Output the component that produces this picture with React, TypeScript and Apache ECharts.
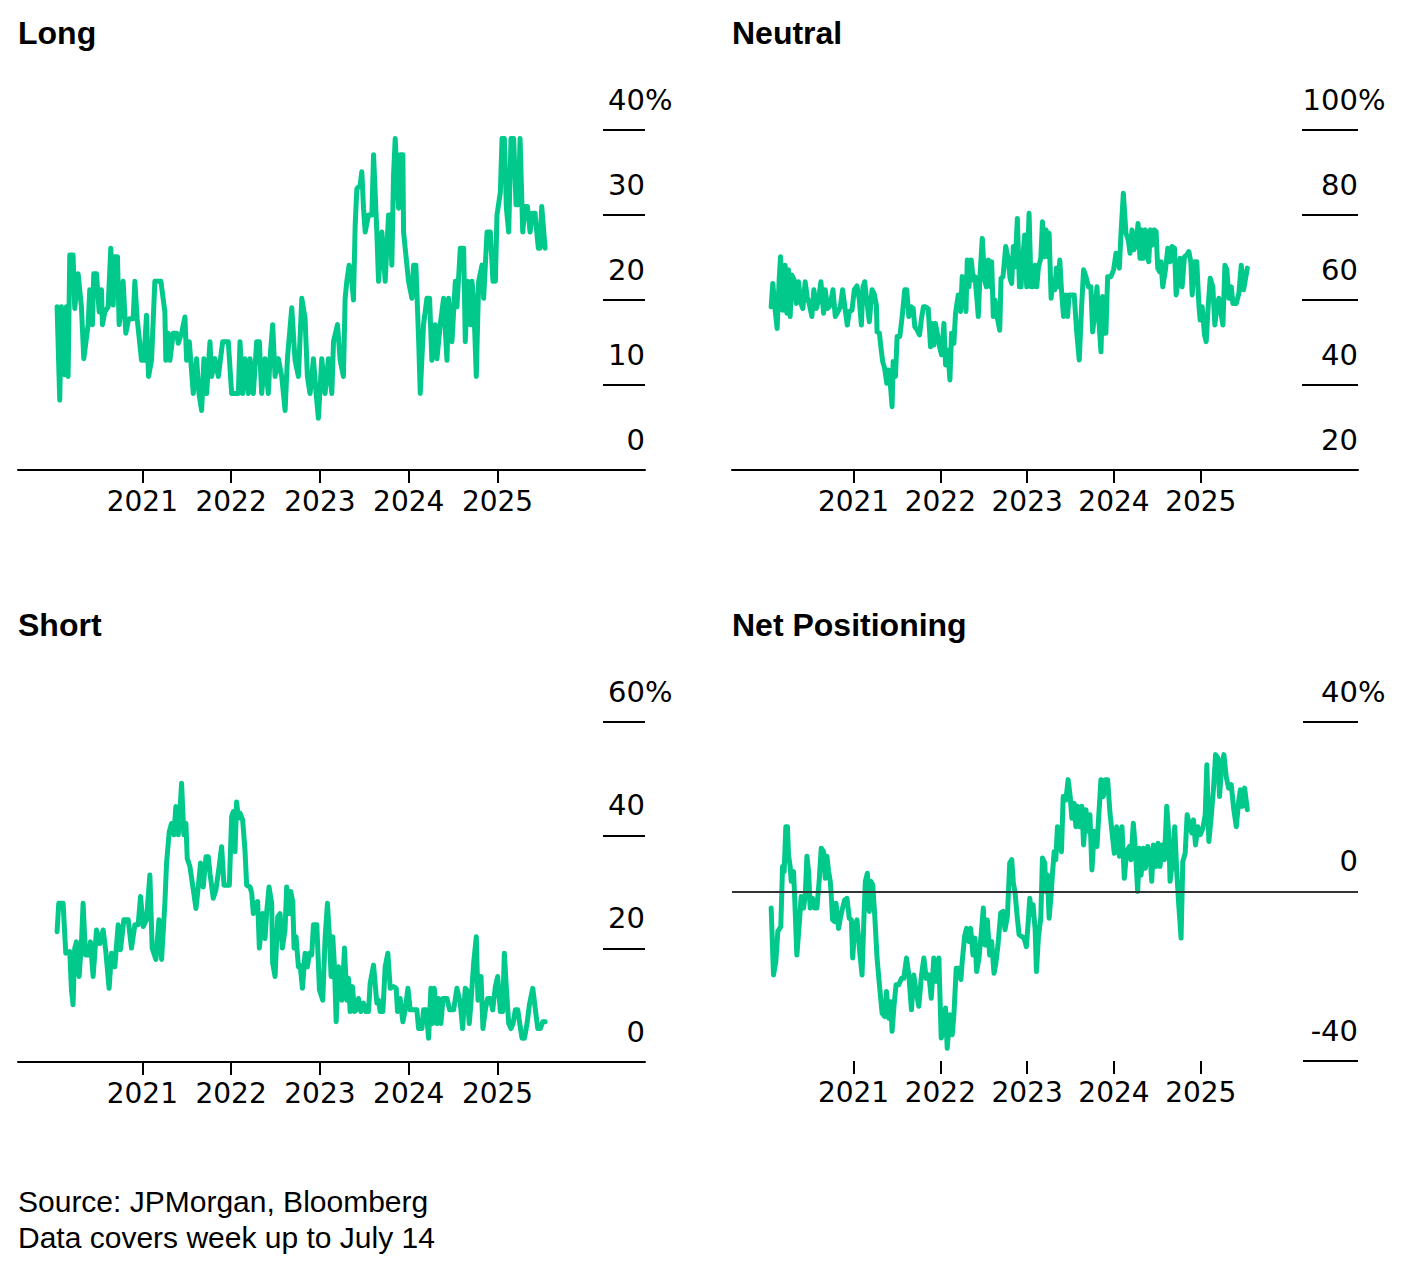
import React, { useEffect, useRef } from "react";
import * as echarts from "echarts";

// Decimal-year dates (weekly survey) and values in %
const longSeries: [number, number][] = [
  [2020.040, 19.2], [2020.070, 8.2], [2020.089, 19.2], [2020.126, 11.2], [2020.145, 19.2], [2020.164, 11.0],
  [2020.183, 25.3], [2020.220, 25.3], [2020.239, 19.0], [2020.277, 23.1], [2020.314, 19.2], [2020.341, 13.1],
  [2020.390, 17.1], [2020.408, 21.2], [2020.438, 17.1], [2020.453, 23.1], [2020.484, 23.1], [2020.514, 18.6],
  [2020.540, 21.2], [2020.551, 17.1], [2020.578, 18.6], [2020.615, 19.2], [2020.645, 26.1], [2020.672, 19.4],
  [2020.690, 25.1], [2020.720, 25.1], [2020.739, 17.1], [2020.758, 18.6], [2020.784, 22.2], [2020.814, 16.1],
  [2020.841, 17.5], [2020.859, 17.8], [2020.897, 17.8], [2020.916, 22.2], [2020.942, 17.8], [2020.991, 12.9],
  [2021.017, 12.9], [2021.047, 18.2], [2021.070, 11.0], [2021.104, 12.9], [2021.141, 22.2], [2021.209, 22.2],
  [2021.254, 18.6], [2021.265, 12.9], [2021.292, 16.1], [2021.311, 12.9], [2021.348, 16.1], [2021.386, 16.1],
  [2021.405, 14.9], [2021.442, 16.1], [2021.480, 18.0], [2021.499, 12.9], [2021.529, 15.1], [2021.574, 9.0],
  [2021.611, 13.1], [2021.638, 9.0], [2021.668, 7.0], [2021.694, 13.1], [2021.724, 9.0], [2021.762, 15.1],
  [2021.780, 11.0], [2021.818, 13.1], [2021.856, 11.0], [2021.905, 15.1], [2021.968, 15.1], [2022.006, 9.0],
  [2022.081, 9.0], [2022.100, 15.1], [2022.130, 9.0], [2022.156, 13.1], [2022.194, 9.0], [2022.213, 13.1],
  [2022.250, 9.0], [2022.288, 15.1], [2022.318, 15.1], [2022.344, 9.0], [2022.382, 13.1], [2022.419, 9.0],
  [2022.438, 13.1], [2022.468, 17.1], [2022.495, 11.0], [2022.532, 13.1], [2022.570, 11.0], [2022.608, 7.0],
  [2022.634, 13.1], [2022.683, 19.1], [2022.720, 12.9], [2022.758, 11.0], [2022.796, 20.2], [2022.833, 17.8],
  [2022.859, 11.0], [2022.889, 9.0], [2022.927, 13.1], [2022.957, 9.0], [2022.983, 6.1], [2023.021, 13.1],
  [2023.058, 9.0], [2023.096, 13.1], [2023.134, 9.0], [2023.153, 15.1], [2023.198, 17.1], [2023.228, 12.9],
  [2023.265, 11.0], [2023.284, 20.2], [2023.303, 22.2], [2023.329, 24.1], [2023.359, 22.2], [2023.378, 20.0],
  [2023.397, 28.8], [2023.416, 33.1], [2023.453, 33.5], [2023.472, 35.1], [2023.491, 30.8], [2023.510, 28.0],
  [2023.547, 30.0], [2023.585, 30.0], [2023.604, 37.1], [2023.641, 28.0], [2023.660, 22.2], [2023.698, 28.0],
  [2023.735, 22.2], [2023.773, 30.0], [2023.792, 30.0], [2023.810, 24.1], [2023.829, 34.7], [2023.848, 39.0],
  [2023.886, 30.8], [2023.904, 37.1], [2023.934, 37.1], [2023.942, 28.0], [2023.998, 22.2], [2024.036, 20.2],
  [2024.055, 24.1], [2024.081, 24.1], [2024.111, 15.5], [2024.130, 9.0], [2024.167, 17.1], [2024.205, 20.2],
  [2024.235, 20.2], [2024.261, 12.9], [2024.299, 17.1], [2024.318, 13.1], [2024.355, 17.1], [2024.393, 20.2],
  [2024.431, 12.9], [2024.449, 20.2], [2024.487, 15.1], [2024.525, 22.2], [2024.543, 19.2], [2024.581, 26.1],
  [2024.619, 26.1], [2024.637, 15.1], [2024.664, 22.2], [2024.694, 17.1], [2024.712, 22.2], [2024.731, 20.2],
  [2024.761, 11.0], [2024.788, 22.2], [2024.825, 24.1], [2024.844, 20.2], [2024.882, 28.0], [2024.919, 28.0],
  [2024.949, 22.2], [2024.976, 22.2], [2024.994, 30.0], [2025.032, 32.7], [2025.051, 39.0], [2025.077, 39.0],
  [2025.100, 30.8], [2025.126, 28.0], [2025.152, 39.0], [2025.182, 39.0], [2025.209, 31.2], [2025.235, 31.2],
  [2025.254, 39.0], [2025.284, 28.0], [2025.310, 31.0], [2025.337, 31.0], [2025.367, 28.0], [2025.393, 30.2],
  [2025.423, 30.2], [2025.442, 28.0], [2025.460, 26.1], [2025.479, 26.1], [2025.498, 31.0], [2025.536, 26.1],
];

const neutralSeries: [number, number][] = [
  [2020.051, 58.4], [2020.070, 63.9], [2020.097, 57.6], [2020.120, 53.3], [2020.143, 64.7], [2020.159, 70.2],
  [2020.182, 57.6], [2020.197, 63.1], [2020.212, 68.2], [2020.232, 56.9], [2020.251, 67.1], [2020.270, 56.1],
  [2020.289, 65.9], [2020.316, 64.7], [2020.339, 59.2], [2020.366, 64.3], [2020.393, 59.2], [2020.416, 58.0],
  [2020.443, 64.3], [2020.466, 60.8], [2020.493, 58.8], [2020.520, 56.1], [2020.543, 62.4], [2020.570, 58.0],
  [2020.597, 60.0], [2020.624, 64.3], [2020.655, 56.9], [2020.674, 62.4], [2020.701, 58.0], [2020.732, 58.8],
  [2020.763, 62.4], [2020.790, 56.1], [2020.821, 57.3], [2020.848, 58.4], [2020.874, 62.4], [2020.905, 57.6],
  [2020.928, 54.1], [2020.951, 57.3], [2020.982, 57.6], [2021.009, 62.4], [2021.040, 63.3], [2021.067, 60.0],
  [2021.090, 54.1], [2021.109, 63.1], [2021.128, 64.3], [2021.152, 60.0], [2021.182, 54.9], [2021.213, 62.4],
  [2021.236, 61.6], [2021.263, 58.8], [2021.271, 52.5], [2021.298, 52.2], [2021.317, 48.6], [2021.336, 45.5],
  [2021.359, 43.9], [2021.383, 40.4], [2021.406, 43.5], [2021.425, 40.0], [2021.444, 34.9], [2021.456, 45.5],
  [2021.483, 42.0], [2021.502, 51.4], [2021.533, 51.4], [2021.560, 56.1], [2021.590, 62.4], [2021.613, 62.4],
  [2021.637, 56.1], [2021.664, 58.4], [2021.687, 58.0], [2021.706, 53.7], [2021.733, 52.9], [2021.760, 51.8],
  [2021.783, 55.7], [2021.806, 58.4], [2021.829, 58.4], [2021.860, 58.0], [2021.887, 49.0], [2021.906, 54.5],
  [2021.925, 49.4], [2021.944, 54.5], [2021.964, 52.2], [2021.991, 49.0], [2022.014, 47.1], [2022.041, 54.5],
  [2022.060, 44.7], [2022.087, 48.2], [2022.110, 41.2], [2022.129, 52.2], [2022.156, 49.8], [2022.175, 56.9],
  [2022.206, 61.2], [2022.233, 57.3], [2022.252, 65.5], [2022.275, 64.7], [2022.295, 57.3], [2022.310, 69.4],
  [2022.329, 63.1], [2022.356, 69.4], [2022.379, 64.7], [2022.399, 65.5], [2022.422, 60.0], [2022.437, 56.1],
  [2022.456, 65.5], [2022.483, 74.5], [2022.510, 64.7], [2022.530, 63.1], [2022.553, 69.4], [2022.580, 63.1],
  [2022.591, 69.0], [2022.610, 56.1], [2022.630, 60.0], [2022.657, 55.7], [2022.684, 52.9], [2022.699, 65.1],
  [2022.722, 65.5], [2022.753, 72.6], [2022.780, 69.8], [2022.803, 65.1], [2022.822, 63.9], [2022.841, 72.6],
  [2022.861, 67.8], [2022.887, 79.2], [2022.911, 63.1], [2022.930, 63.1], [2022.945, 69.0], [2022.972, 75.3],
  [2022.995, 63.1], [2023.022, 80.4], [2023.045, 63.1], [2023.068, 63.1], [2023.092, 68.2], [2023.111, 63.1],
  [2023.130, 67.8], [2023.157, 69.8], [2023.176, 78.4], [2023.199, 70.2], [2023.219, 76.5], [2023.238, 70.2],
  [2023.253, 75.7], [2023.276, 60.4], [2023.295, 64.7], [2023.318, 62.4], [2023.338, 67.5], [2023.357, 63.1],
  [2023.376, 69.4], [2023.395, 62.4], [2023.419, 56.1], [2023.446, 61.2], [2023.465, 56.1], [2023.484, 61.2],
  [2023.515, 61.2], [2023.542, 61.2], [2023.569, 52.9], [2023.600, 45.9], [2023.627, 58.4], [2023.650, 67.1],
  [2023.677, 65.5], [2023.707, 63.1], [2023.734, 63.1], [2023.754, 52.5], [2023.780, 56.9], [2023.804, 63.1],
  [2023.823, 56.1], [2023.850, 47.8], [2023.869, 60.8], [2023.888, 52.2], [2023.907, 52.2], [2023.927, 65.5],
  [2023.965, 65.5], [2023.996, 67.1], [2024.023, 71.0], [2024.042, 70.6], [2024.062, 67.5], [2024.081, 75.7],
  [2024.108, 85.1], [2024.138, 75.7], [2024.165, 74.1], [2024.185, 71.0], [2024.208, 76.5], [2024.227, 71.8],
  [2024.254, 72.9], [2024.277, 78.0], [2024.300, 69.8], [2024.320, 76.5], [2024.339, 69.8], [2024.362, 76.5],
  [2024.381, 71.8], [2024.400, 69.0], [2024.420, 76.5], [2024.439, 72.9], [2024.466, 76.5], [2024.485, 76.1],
  [2024.504, 67.5], [2024.523, 66.7], [2024.542, 69.0], [2024.562, 63.1], [2024.593, 67.1], [2024.620, 72.2],
  [2024.647, 69.0], [2024.670, 72.6], [2024.697, 72.2], [2024.716, 61.2], [2024.739, 64.7], [2024.762, 69.8],
  [2024.785, 63.1], [2024.812, 70.2], [2024.839, 70.6], [2024.862, 71.4], [2024.885, 69.0], [2024.901, 61.2],
  [2024.928, 69.0], [2024.954, 69.0], [2024.978, 58.8], [2024.993, 55.3], [2025.016, 58.4], [2025.043, 51.8],
  [2025.062, 50.2], [2025.085, 58.4], [2025.108, 65.1], [2025.139, 63.1], [2025.162, 54.1], [2025.185, 58.4],
  [2025.208, 60.4], [2025.235, 56.5], [2025.255, 54.1], [2025.278, 68.2], [2025.301, 67.1], [2025.324, 60.4],
  [2025.351, 63.1], [2025.370, 59.2], [2025.409, 59.2], [2025.439, 61.6], [2025.466, 68.2], [2025.493, 62.4],
  [2025.536, 67.5],
];

const shortSeries: [number, number][] = [
  [2020.040, 23.0], [2020.059, 28.0], [2020.108, 28.0], [2020.138, 19.2], [2020.183, 19.5], [2020.202, 12.7],
  [2020.220, 10.1], [2020.239, 20.1], [2020.258, 21.2], [2020.288, 15.1], [2020.314, 20.9], [2020.333, 28.0],
  [2020.360, 18.9], [2020.390, 18.9], [2020.416, 21.2], [2020.446, 15.1], [2020.484, 23.3], [2020.521, 20.9],
  [2020.559, 23.3], [2020.589, 19.5], [2020.626, 13.0], [2020.653, 19.2], [2020.690, 16.8], [2020.728, 24.2],
  [2020.754, 19.8], [2020.792, 25.1], [2020.841, 25.1], [2020.878, 20.1], [2020.916, 24.2], [2020.953, 24.2],
  [2020.980, 29.2], [2021.010, 23.9], [2021.047, 25.1], [2021.085, 33.0], [2021.111, 20.1], [2021.153, 18.1],
  [2021.187, 25.1], [2021.217, 18.1], [2021.254, 28.0], [2021.273, 35.1], [2021.303, 40.6], [2021.329, 42.1],
  [2021.356, 40.1], [2021.378, 45.1], [2021.405, 40.1], [2021.423, 43.9], [2021.442, 49.2], [2021.468, 40.1],
  [2021.491, 42.1], [2021.506, 35.9], [2021.536, 34.5], [2021.574, 30.4], [2021.604, 27.1], [2021.630, 30.9],
  [2021.656, 35.1], [2021.686, 30.9], [2021.717, 36.2], [2021.743, 36.2], [2021.762, 33.3], [2021.799, 28.9],
  [2021.829, 30.4], [2021.863, 34.2], [2021.893, 38.0], [2021.920, 31.2], [2021.950, 31.2], [2021.980, 31.2],
  [2022.006, 43.3], [2022.025, 44.2], [2022.044, 37.1], [2022.062, 45.9], [2022.081, 43.0], [2022.100, 43.9],
  [2022.130, 42.7], [2022.156, 37.4], [2022.175, 31.2], [2022.213, 30.9], [2022.232, 29.8], [2022.250, 26.2],
  [2022.280, 28.0], [2022.299, 28.3], [2022.318, 20.1], [2022.356, 26.2], [2022.382, 21.8], [2022.401, 26.5],
  [2022.427, 30.9], [2022.457, 28.0], [2022.468, 17.4], [2022.495, 15.1], [2022.525, 25.6], [2022.551, 26.2],
  [2022.577, 20.1], [2022.607, 23.3], [2022.626, 30.9], [2022.653, 26.2], [2022.671, 30.1], [2022.694, 28.3],
  [2022.709, 20.1], [2022.731, 22.1], [2022.758, 16.8], [2022.777, 17.1], [2022.803, 13.0], [2022.833, 19.2],
  [2022.859, 16.8], [2022.882, 19.2], [2022.908, 18.9], [2022.927, 24.2], [2022.965, 24.2], [2022.995, 12.7],
  [2023.032, 10.9], [2023.059, 22.1], [2023.085, 28.0], [2023.107, 22.1], [2023.126, 15.1], [2023.145, 22.1],
  [2023.164, 16.8], [2023.183, 7.1], [2023.209, 16.8], [2023.247, 10.9], [2023.277, 20.1], [2023.303, 10.9],
  [2023.322, 14.8], [2023.340, 8.9], [2023.367, 13.3], [2023.389, 8.9], [2023.408, 9.2], [2023.434, 11.2],
  [2023.461, 8.9], [2023.491, 10.4], [2023.517, 8.9], [2023.547, 8.9], [2023.566, 13.9], [2023.604, 17.1],
  [2023.641, 10.4], [2023.660, 10.9], [2023.679, 8.9], [2023.709, 8.9], [2023.735, 16.8], [2023.765, 19.2],
  [2023.792, 13.0], [2023.829, 13.3], [2023.859, 13.0], [2023.874, 8.9], [2023.904, 11.2], [2023.934, 7.1],
  [2023.961, 9.2], [2023.991, 13.0], [2024.017, 9.2], [2024.055, 9.2], [2024.092, 9.2], [2024.111, 5.9],
  [2024.149, 5.9], [2024.167, 9.2], [2024.197, 9.2], [2024.224, 4.2], [2024.250, 13.0], [2024.269, 6.8],
  [2024.288, 13.0], [2024.318, 6.8], [2024.337, 11.2], [2024.363, 6.8], [2024.386, 11.2], [2024.431, 11.2],
  [2024.461, 9.2], [2024.506, 9.2], [2024.543, 13.0], [2024.581, 10.4], [2024.607, 5.9], [2024.637, 13.0],
  [2024.656, 12.7], [2024.682, 6.8], [2024.701, 10.4], [2024.731, 17.4], [2024.761, 22.1], [2024.780, 10.9],
  [2024.814, 15.1], [2024.836, 5.9], [2024.863, 9.2], [2024.889, 11.2], [2024.919, 11.2], [2024.946, 9.2],
  [2024.976, 13.3], [2025.002, 15.1], [2025.032, 8.9], [2025.058, 8.9], [2025.077, 19.2], [2025.100, 13.0],
  [2025.126, 6.8], [2025.152, 5.9], [2025.175, 6.8], [2025.201, 9.2], [2025.228, 9.2], [2025.250, 6.8],
  [2025.276, 4.2], [2025.303, 4.2], [2025.333, 6.8], [2025.359, 10.1], [2025.397, 13.0], [2025.427, 9.2],
  [2025.453, 5.9], [2025.483, 5.9], [2025.509, 7.1], [2025.536, 7.1],
];

const netSeries: [number, number][] = [
  [2020.051, -3.9], [2020.078, -19.7], [2020.105, -16.5], [2020.128, -9.4], [2020.162, -8.3], [2020.182, 5.9],
  [2020.201, 4.7], [2020.220, 15.3], [2020.239, 15.3], [2020.251, 8.6], [2020.270, 5.9], [2020.282, 2.4],
  [2020.309, 4.7], [2020.320, -0.4], [2020.347, -15.0], [2020.374, -7.9], [2020.397, -1.2], [2020.424, -3.9],
  [2020.443, -1.2], [2020.463, 8.3], [2020.482, 4.7], [2020.501, -3.9], [2020.528, -1.6], [2020.551, -3.9],
  [2020.578, -3.9], [2020.605, 2.8], [2020.628, 10.2], [2020.655, 9.4], [2020.674, 3.1], [2020.694, 8.3],
  [2020.713, 4.7], [2020.732, 2.4], [2020.744, -1.2], [2020.759, -6.7], [2020.782, -7.1], [2020.798, -2.8],
  [2020.828, -8.7], [2020.848, -6.3], [2020.874, -3.9], [2020.898, -2.0], [2020.924, -1.6], [2020.951, -6.3],
  [2020.975, -6.7], [2020.990, -15.7], [2021.013, -8.7], [2021.040, -6.7], [2021.067, -13.4], [2021.098, -19.7],
  [2021.117, -7.9], [2021.136, 2.4], [2021.159, 4.3], [2021.182, -4.7], [2021.198, 2.4], [2021.221, 1.6],
  [2021.244, -5.5], [2021.271, -15.7], [2021.298, -22.0], [2021.329, -28.7], [2021.359, -29.5], [2021.379, -23.6],
  [2021.406, -29.9], [2021.429, -26.0], [2021.444, -33.0], [2021.467, -26.8], [2021.490, -22.0], [2021.521, -22.0],
  [2021.552, -20.5], [2021.579, -20.5], [2021.610, -15.7], [2021.637, -19.7], [2021.667, -27.9], [2021.694, -19.7],
  [2021.721, -23.6], [2021.752, -27.1], [2021.783, -19.7], [2021.810, -15.7], [2021.837, -20.5], [2021.868, -19.7],
  [2021.895, -25.2], [2021.925, -15.7], [2021.952, -21.2], [2021.983, -15.7], [2022.010, -34.6], [2022.033, -33.0],
  [2022.060, -27.5], [2022.079, -37.0], [2022.110, -29.1], [2022.137, -33.8], [2022.156, -29.1], [2022.183, -18.1],
  [2022.214, -18.1], [2022.237, -20.8], [2022.252, -16.5], [2022.279, -10.6], [2022.302, -8.7], [2022.329, -11.8],
  [2022.349, -8.7], [2022.376, -15.0], [2022.399, -11.0], [2022.418, -18.9], [2022.445, -15.7], [2022.472, -9.8],
  [2022.495, -3.9], [2022.514, -12.6], [2022.541, -6.7], [2022.568, -15.0], [2022.591, -11.8], [2022.618, -19.3],
  [2022.637, -17.3], [2022.664, -12.6], [2022.695, -5.1], [2022.722, -4.7], [2022.745, -9.0], [2022.772, -5.9],
  [2022.799, 6.7], [2022.822, 7.5], [2022.841, 2.0], [2022.861, -0.4], [2022.887, -6.3], [2022.907, -10.2],
  [2022.937, -10.6], [2022.964, -11.0], [2022.991, -13.0], [2023.015, -6.3], [2023.030, -1.6], [2023.053, -5.5],
  [2023.068, -3.1], [2023.092, -9.0], [2023.107, -18.9], [2023.130, -10.6], [2023.157, -6.3], [2023.176, 7.9],
  [2023.203, 6.7], [2023.215, 0.0], [2023.234, 3.9], [2023.253, -6.3], [2023.276, -0.8], [2023.292, 4.3],
  [2023.311, 9.4], [2023.330, 7.5], [2023.349, 15.3], [2023.376, 12.6], [2023.395, 9.4], [2023.415, 22.4],
  [2023.446, 21.6], [2023.472, 26.4], [2023.496, 22.4], [2023.515, 17.3], [2023.542, 20.8], [2023.561, 15.3],
  [2023.580, 20.1], [2023.607, 15.3], [2023.630, 20.1], [2023.650, 11.0], [2023.677, 19.3], [2023.696, 14.2],
  [2023.723, 18.1], [2023.746, 5.1], [2023.773, 14.2], [2023.804, 10.6], [2023.823, 17.3], [2023.850, 26.4],
  [2023.877, 22.4], [2023.900, 26.4], [2023.927, 26.4], [2023.954, 18.5], [2023.985, 12.6], [2024.004, 9.0],
  [2024.031, 15.3], [2024.062, 8.3], [2024.092, 15.3], [2024.119, 3.1], [2024.146, 9.4], [2024.177, 10.6],
  [2024.196, 7.5], [2024.223, 16.1], [2024.246, 10.2], [2024.273, 0.0], [2024.293, 10.2], [2024.312, 3.9],
  [2024.339, 10.2], [2024.362, 5.5], [2024.389, 10.6], [2024.416, 8.6], [2024.435, 2.4], [2024.454, 11.0],
  [2024.485, 5.9], [2024.508, 11.4], [2024.531, 5.9], [2024.554, 11.0], [2024.581, 7.5], [2024.608, 20.1],
  [2024.631, 13.4], [2024.646, 2.4], [2024.677, 7.5], [2024.700, 15.3], [2024.723, 4.7], [2024.746, -3.1],
  [2024.773, -11.0], [2024.793, 7.1], [2024.820, 9.0], [2024.843, 18.1], [2024.870, 15.7], [2024.897, 13.8],
  [2024.916, 16.9], [2024.939, 11.0], [2024.966, 15.3], [2024.993, 13.4], [2025.024, 14.9], [2025.051, 18.1],
  [2025.070, 29.9], [2025.093, 11.8], [2025.120, 17.7], [2025.147, 24.4], [2025.170, 32.3], [2025.197, 31.5],
  [2025.216, 22.4], [2025.239, 29.5], [2025.266, 32.3], [2025.293, 27.1], [2025.320, 24.4], [2025.351, 25.2],
  [2025.378, 19.7], [2025.409, 15.3], [2025.436, 21.2], [2025.455, 24.0], [2025.478, 20.1], [2025.505, 24.4],
  [2025.536, 19.3],
];

const yearTicks = [2021, 2022, 2023, 2024, 2025];
const panelTitles = ["Long", "Neutral", "Short", "Net Positioning"];
const yTicksLong = { min: 0, max: 40, interval: 10 };
const yTicksNeutral = { min: 20, max: 100, interval: 20 };
const yTicksShort = { min: 0, max: 60, interval: 20 };
const yTicksNet = { min: -40, max: 40, interval: 40 };
const sourceNote = "Source: JPMorgan, Bloomberg\nData covers week up to July 14";

const FONT = '"Liberation Sans", Arial, Helvetica, sans-serif';
const AXIS_FONT = '"DejaVu Sans", "Liberation Sans", sans-serif';
const GREEN = "#00c98b";

export default function App() {
  const ref = useRef<HTMLDivElement>(null);

  useEffect(() => {
    document.body.style.margin = "0";
    if (!ref.current) return;
    const chart = echarts.init(ref.current, null, { renderer: "svg" });

    const panels = [
      { title: panelTitles[0], data: longSeries, y: yTicksLong, left: 18, top: 130, width: 627, height: 340, xMax: 2026.661, tickLen: 42, axisLine: true },
      { title: panelTitles[1], data: neutralSeries, y: yTicksNeutral, left: 732, top: 130, width: 626, height: 340, xMax: 2026.811, tickLen: 56, axisLine: true },
      { title: panelTitles[2], data: shortSeries, y: yTicksShort, left: 18, top: 722, width: 627, height: 340, xMax: 2026.661, tickLen: 42, axisLine: true },
      { title: panelTitles[3], data: netSeries, y: yTicksNet, left: 732, top: 722, width: 626, height: 339, xMax: 2026.811, tickLen: 55, axisLine: false },
    ];

    const yFont = 29;
    const pctW = 27.5;

    const option: any = {
      animation: false,
      backgroundColor: "#fff",
      title: [
        ...panels.map((p) => ({
          text: p.title,
          left: p.left,
          top: p.top - 113,
          padding: 0,
          textStyle: { fontFamily: FONT, fontSize: 32, fontWeight: "bold", color: "#000", lineHeight: 32 },
        })),
        {
          text: sourceNote,
          left: 18,
          top: 1183,
          padding: 0,
          textStyle: { fontFamily: FONT, fontSize: 30, fontWeight: "normal", color: "#000", lineHeight: 36 },
        },
      ],
      grid: panels.map((p) => ({ left: p.left, top: p.top, width: p.width, height: p.height, containLabel: false })),
      xAxis: panels.map((p, i) => ({
        gridIndex: i,
        type: "value",
        min: 2019.6,
        max: p.xMax,
        axisLine: { show: p.axisLine, onZero: false, lineStyle: { color: "#000", width: 2 } },
        axisTick: { show: true, length: 13, lineStyle: { color: "#000", width: 2 }, customValues: yearTicks },
        axisLabel: {
          customValues: yearTicks,
          formatter: (v: number) => String(Math.round(v)),
          fontFamily: AXIS_FONT,
          fontSize: 28,
          lineHeight: 28,
          color: "#000",
          margin: 17,
        },
        splitLine: { show: false },
      })),
      yAxis: panels.map((p, i) => ({
        gridIndex: i,
        type: "value",
        position: "right",
        min: p.y.min,
        max: p.y.max,
        interval: p.y.interval,
        axisLine: { show: false, onZero: false },
        axisTick: { show: true, inside: true, length: p.tickLen, lineStyle: { color: "#000", width: 2 } },
        axisLabel: {
          inside: true,
          margin: -pctW,
          align: "right",
          verticalAlign: "bottom",
          padding: [0, 0, 16, 0],
          fontFamily: AXIS_FONT,
          fontSize: yFont,
          lineHeight: yFont,
          color: "#000",
          formatter: (v: number) => (v === p.y.max ? `${v}%` : `${v}{sp| }`),
          rich: { sp: { width: pctW, fontFamily: AXIS_FONT, fontSize: yFont, lineHeight: yFont } },
        },
        splitLine: { show: false },
      })),
      series: [
        {
          type: "line",
          xAxisIndex: 3,
          yAxisIndex: 3,
          data: [],
          z: 1,
          silent: true,
          markLine: {
            silent: true,
            symbol: ["none", "none"],
            label: { show: false },
            lineStyle: { color: "#333", width: 2, type: "solid" },
            data: [{ yAxis: 0 }],
          },
        },
        ...panels.map((p, i) => ({
          type: "line",
          xAxisIndex: i,
          yAxisIndex: i,
          data: p.data,
          showSymbol: false,
          symbol: "none",
          silent: true,
          z: 3,
          lineStyle: { color: GREEN, width: 5, cap: "round", join: "round" },
          itemStyle: { color: GREEN },
        })),
      ],
    };

    chart.setOption(option);
    return () => chart.dispose();
  }, []);

  return <div ref={ref} style={{ width: 1408, height: 1274 }} />;
}
